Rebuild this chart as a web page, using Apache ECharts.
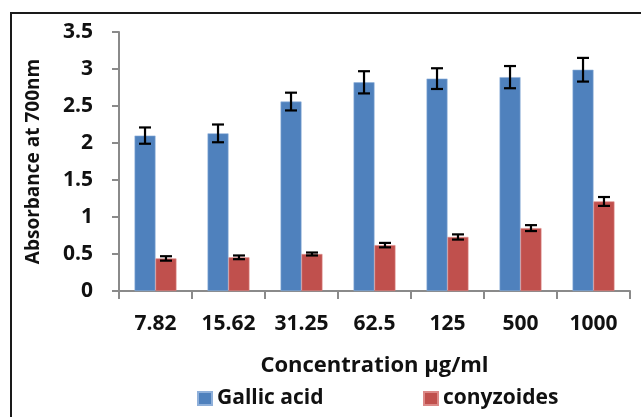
<!DOCTYPE html>
<html><head><meta charset="utf-8">
<script src="https://cdn.jsdelivr.net/npm/echarts@6/dist/echarts.min.js"></script>
<style>html,body{margin:0;padding:0;background:#fff}#c{width:641px;height:417px}</style>
</head><body><div id="c"></div>
<script>
const categories = ['7.82','15.62','31.25','62.5','125','500','1000'];
const gallic = [2.10, 2.13, 2.56, 2.82, 2.87, 2.89, 2.99];
const gallicErr = [0.11, 0.12, 0.12, 0.15, 0.14, 0.15, 0.16];
const cony = [0.44, 0.455, 0.50, 0.62, 0.73, 0.85, 1.21];
const conyErr = [0.03, 0.025, 0.02, 0.03, 0.035, 0.04, 0.06];
const yTicks = [0, 0.5, 1, 1.5, 2, 2.5, 3, 3.5];

const FONT = 'Open Sans';
const BARFRAC = 0.287;
function errRender(side) {
  return function (params, api) {
    const i = api.value(0), v = api.value(1), e = api.value(2);
    const band = api.size([1, 0])[0];
    const bw = band * BARFRAC;
    const x = api.coord([i, v])[0] + side * bw / 2;
    const yt = api.coord([i, v + e])[1];
    const yb = api.coord([i, v - e])[1];
    const cap = 6;
    const st = { stroke: '#000', lineWidth: 2.2 };
    return { type: 'group', children: [
      { type: 'line', shape: { x1: x, y1: yt, x2: x, y2: yb }, style: st },
      { type: 'line', shape: { x1: x - cap, y1: yt, x2: x + cap, y2: yt }, style: st },
      { type: 'line', shape: { x1: x - cap, y1: yb, x2: x + cap, y2: yb }, style: st }
    ]};
  };
}
const chart = echarts.init(document.getElementById('c'), null, { renderer: 'canvas' });
const axisLine = { show: true, lineStyle: { color: '#8a8a8a', width: 2 } };
const txt = (size) => ({ fontFamily: FONT, fontWeight: 'bold', fontSize: size, color: '#111' });
chart.setOption({
  animation: false,
  textStyle: { fontFamily: FONT },
  graphic: [{ type: 'rect', shape: { x: 11, y: 13, width: 700, height: 500 },
    style: { fill: 'none', stroke: '#1a1a1a', lineWidth: 2 }, z: -1 }],
  grid: { left: 119, right: 11, top: 32, bottom: 126, containLabel: false },
  legend: [
    { data: ['Gallic acid'], left: 192, top: 383, itemWidth: 14, itemHeight: 13, icon: 'rect',
      textStyle: txt(21) },
    { data: ['conyzoides'], left: 418, top: 383, itemWidth: 14, itemHeight: 13, icon: 'rect',
      textStyle: txt(21) }
  ],
  xAxis: {
    type: 'category', data: categories,
    axisLine: axisLine,
    axisTick: { show: true, length: 8, lineStyle: { color: '#8a8a8a', width: 2 } },
    axisLabel: Object.assign({ margin: 23, interval: 0, hideOverlap: false }, txt(21)),
    name: 'Concentration µg/ml', nameLocation: 'middle', nameGap: 64,
    nameTextStyle: txt(22)
  },
  yAxis: {
    type: 'value', min: 0, max: 3.5, interval: 0.5,
    axisLine: axisLine,
    axisTick: { show: true, length: 7, lineStyle: { color: '#8a8a8a', width: 2 } },
    splitLine: { show: false },
    axisLabel: Object.assign({ margin: 26,
      formatter: v => String(yTicks.find(t => Math.abs(t - v) < 1e-9) ?? v) }, txt(21)),
    name: 'Absorbance at 700nm', nameLocation: 'middle', nameGap: 76,
    nameTextStyle: txt(19)
  },
  series: [
    { name: 'Gallic acid', type: 'bar', data: gallic, barWidth: (BARFRAC * 100) + '%', barGap: '0%',
      itemStyle: { color: '#4F81BD', borderColor: '#8fb0da', borderWidth: 0.6 } },
    { name: 'conyzoides', type: 'bar', data: cony, barWidth: (BARFRAC * 100) + '%', barGap: '0%',
      itemStyle: { color: '#C0504D', borderColor: '#dc8a88', borderWidth: 0.6 } },
    { name: 'errG', type: 'custom', renderItem: errRender(-1), z: 10,
      encode: { x: 0, y: 1 }, data: gallic.map((v, i) => [i, v, gallicErr[i]]) },
    { name: 'errC', type: 'custom', renderItem: errRender(1), z: 10,
      encode: { x: 0, y: 1 }, data: cony.map((v, i) => [i, v, conyErr[i]]) }
  ]
});
</script></body></html>
